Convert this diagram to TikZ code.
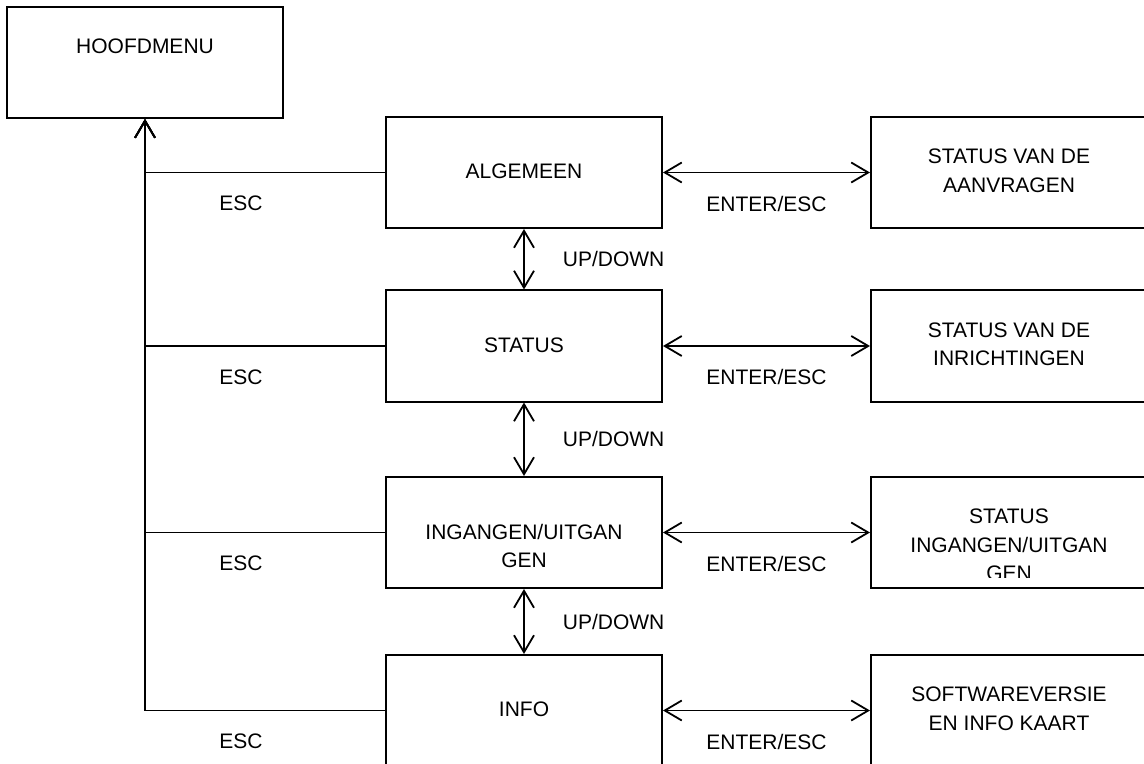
\documentclass[tikz,border=0pt]{standalone}
\usepackage{fontspec}
\setmainfont{Liberation Sans}
\usetikzlibrary{arrows.meta,positioning}
\tikzset{
  menubox/.style={draw,line width=1pt,minimum width=138pt,minimum height=55.5pt,inner sep=0pt},
  boxtext/.style={align=center,inner sep=0pt,font=\fontsize{10.5}{14.25}\selectfont},
  keylabel/.style={inner sep=0pt,font=\fontsize{10.5}{12.6}\selectfont},
  navline/.style={line width=0.9pt},
  navarrow/.style={navline,{Straight Barb[length=8.5pt,width=10pt]}-{Straight Barb[length=8.5pt,width=10pt]}},
  escarrow/.style={navline,-{Straight Barb[length=8.5pt,width=10pt]}}
}

\begin{document}
\begin{tikzpicture}[x=0.5pt,y=-0.5pt]
  \path[use as bounding box] (0,0) rectangle (1144,764);
  \clip (0,0) rectangle (1144,764);

  % main menu
  \node[menubox] (hoofdmenu) at (145,62.5) {};
  \node[boxtext,below=16.25pt of hoofdmenu.north] (hoofdmenutxt) {HOOFDMENU};

  % submenus
  \node[menubox] (algemeen) at (524,172.5) {};
  \node[menubox] (status) at (524,346) {};
  \node[menubox] (inout) at (524,532.5) {};
  \node[menubox] (info) at (524,710.5) {};
  \node[boxtext,below=23.75pt of algemeen.north] (algemeentxt) {ALGEMEEN};
  \node[boxtext,below=23.75pt of status.north] (statustxt) {STATUS};
  \node[boxtext,below=23.75pt of inout.north] (inouttxt) {INGANGEN/UITGAN\\GEN};
  \node[boxtext,below=23.75pt of info.north] (infotxt) {INFO};

  % detail screens
  \node[menubox] (aanvragen) at (1009,172.5) {};
  \node[menubox] (inrichtingen) at (1009,346) {};
  \node[menubox] (iostatus) at (1009,532.5) {};
  \node[menubox] (software) at (1009,710.5) {};
  \node[boxtext,below=16.25pt of aanvragen.north] (aanvragentxt) {STATUS VAN DE\\AANVRAGEN};
  \node[boxtext,below=16.25pt of inrichtingen.north] (inrichtingentxt) {STATUS VAN DE\\INRICHTINGEN};
  \begin{scope}
    \clip (iostatus.north west) rectangle (1147,577);
    \node[boxtext,below=16.25pt of iostatus.north] (iostatustxt) {STATUS\\INGANGEN/UITGAN\\GEN};
  \end{scope}
  \node[boxtext,below=16.25pt of software.north] (softwaretxt) {SOFTWAREVERSIE\\EN INFO KAART};

  % ESC back to main menu
  \foreach \b/\n in {algemeen/1,status/2,inout/3,info/4}{
    \draw[escarrow] (\b.west) -| node[keylabel,pos=0.3,below=11.25pt] (esc\n) {ESC} (hoofdmenu.south);
  }

  % UP/DOWN
  \foreach \a/\b/\n in {algemeen/status/1,status/inout/2,inout/info/3}{
    \draw[navarrow] (\a.south) -- node[keylabel,midway,right=19pt] (updown\n) {UP/DOWN} (\b.north);
  }

  % ENTER/ESC
  \foreach \a/\b/\n in {algemeen/aanvragen/1,status/inrichtingen/2,inout/iostatus/3,info/software/4}{
    \draw[navarrow] (\a.east) -- node[keylabel,midway,below=11.25pt] (enter\n) {ENTER/ESC} (\b.west);
  }
\end{tikzpicture}
\end{document}
